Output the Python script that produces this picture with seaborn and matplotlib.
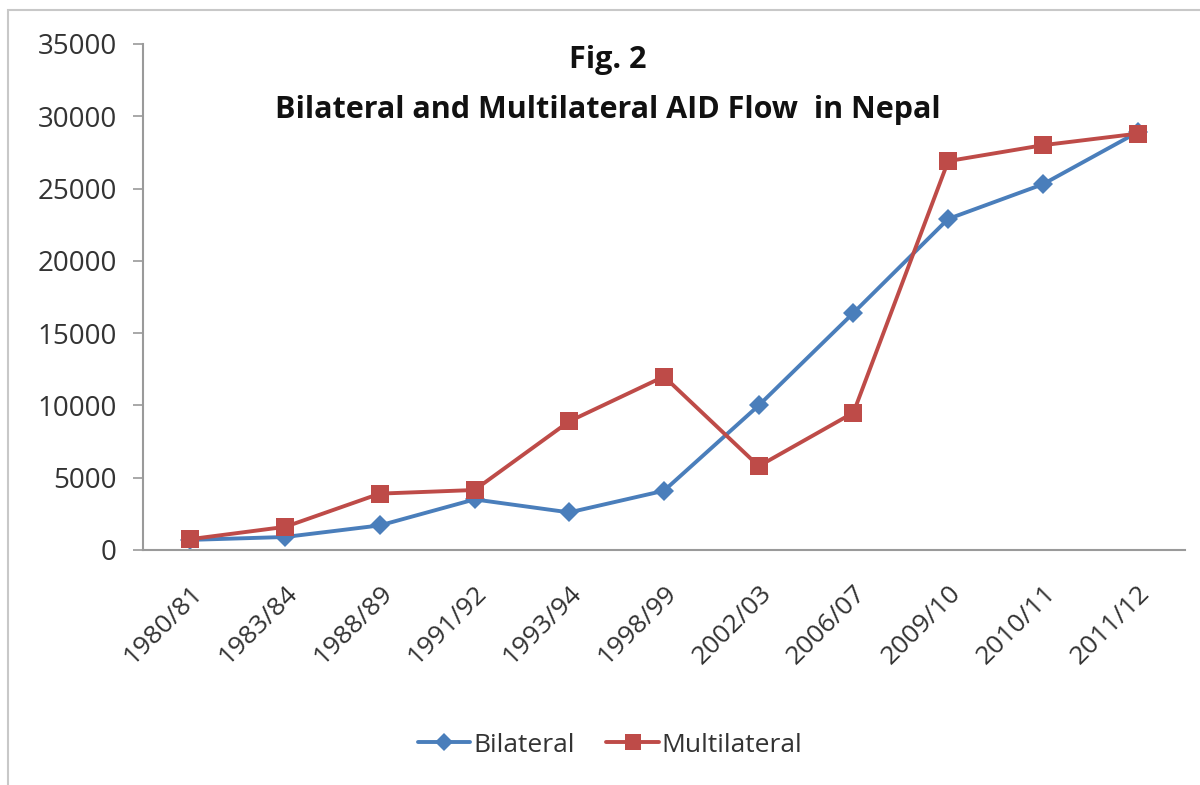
import matplotlib
matplotlib.use("Agg")
import matplotlib.pyplot as plt
from matplotlib.patches import Rectangle
from matplotlib.lines import Line2D
import seaborn as sns
import pandas as pd
import numpy as np

# Fiscal years and aid flows
years = ["1980/81", "1983/84", "1988/89", "1991/92", "1993/94", "1998/99",
         "2002/03", "2006/07", "2009/10", "2010/11", "2011/12"]
bilateral = [700, 900, 1700, 3500, 2600, 4100, 10000, 16400, 22900, 25300, 28900]
multilateral = [750, 1600, 3900, 4150, 8900, 12000, 5800, 9500, 26900, 28000, 28800]
series_names = ["Bilateral", "Multilateral"]
y_ticks = [0, 5000, 10000, 15000, 20000, 25000, 30000, 35000]

df = pd.DataFrame({
    "Year": years * 2,
    "pos": list(range(len(years))) * 2,
    "Value": bilateral + multilateral,
    "Series": [series_names[0]] * len(years) + [series_names[1]] * len(years),
})

sns.set_theme(style="white")
plt.rcParams["font.family"] = ["Open Sans", "DejaVu Sans"]

BLUE = "#4A7EBB"
RED = "#BE4B48"
AXIS = "#9a9a9a"
TEXT = "#333333"

fig = plt.figure(figsize=(12, 7.85), dpi=100)
fig.patch.set_facecolor("white")
fig.patches.append(Rectangle((8 / 1200, -0.01), 1.2, 1 - 10 / 785 + 0.01,
                             transform=fig.transFigure, fill=False,
                             edgecolor="#c8c8c8", linewidth=1.5))

ax = fig.add_axes([143 / 1200, 1 - 550 / 785, (1185 - 143) / 1200, (550 - 44) / 785])

sns.lineplot(data=df, x="pos", y="Value", hue="Series", style="Series",
             palette={"Bilateral": BLUE, "Multilateral": RED},
             markers={"Bilateral": "D", "Multilateral": "s"}, dashes=False,
             linewidth=2.8, markersize=13, markeredgewidth=0, ax=ax, legend=False)

# Bilateral diamonds slightly smaller than the squares
for line in ax.get_lines():
    if matplotlib.colors.to_hex(line.get_color()).lower() == BLUE.lower():
        line.set_markersize(10.5)

ax.set_xlim(-0.5, len(years) - 0.5)
ax.set_ylim(0, 35000)
ax.set_yticks(y_ticks)
ax.set_yticklabels([str(v) for v in y_ticks])
ax.set_xticks(np.arange(len(years)))
ax.set_xticklabels(years, rotation=45, ha="right", rotation_mode="anchor")
ax.set_xticks(np.arange(-0.5, len(years)), minor=True)
ax.tick_params(axis="x", which="major", length=0, pad=22, labelsize=19, labelcolor=TEXT)
ax.tick_params(axis="x", which="minor", length=7, width=1.2, color=AXIS, direction="out")
ax.tick_params(axis="y", length=7, width=1.2, color=AXIS, direction="out", pad=12,
               labelsize=20, labelcolor=TEXT, left=True)
ax.set_xlabel("")
ax.set_ylabel("")
for side in ["top", "right"]:
    ax.spines[side].set_visible(False)
for side in ["left", "bottom"]:
    ax.spines[side].set_color(AXIS)
    ax.spines[side].set_linewidth(1.5)
ax.grid(False)

fig.text(608 / 1200, 1 - 60 / 785, "Fig. 2", ha="center", va="center",
         fontsize=22, fontweight="bold", color="#111111")
fig.text(608 / 1200, 1 - 110 / 785, "Bilateral and Multilateral AID Flow  in Nepal",
         ha="center", va="center", fontsize=22, fontweight="bold", color="#111111")

handles = [
    Line2D([], [], color=BLUE, marker="D", markersize=9, linewidth=2.8, markeredgewidth=0),
    Line2D([], [], color=RED, marker="s", markersize=11, linewidth=2.8, markeredgewidth=0),
]
fig.legend(handles, series_names, loc="center", bbox_to_anchor=(610 / 1200, 1 - 745 / 785),
           ncol=2, frameon=False, fontsize=19, handlelength=2.0, handletextpad=0.1,
           columnspacing=1.2, labelcolor=TEXT)

fig.savefig("out.png", dpi=100, facecolor="white")
